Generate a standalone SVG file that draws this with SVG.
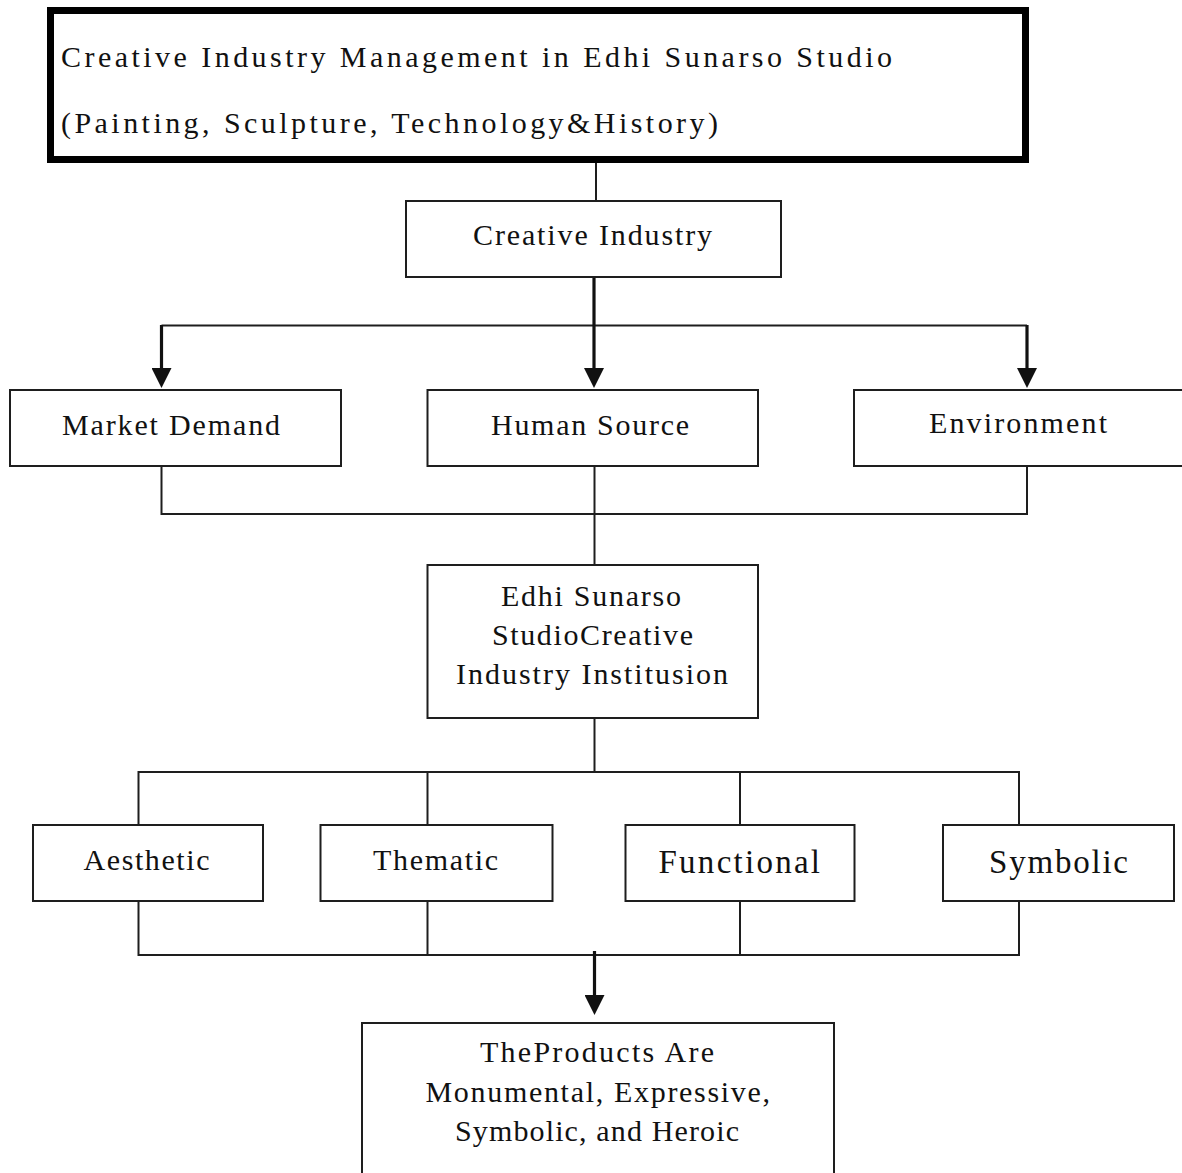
<svg xmlns="http://www.w3.org/2000/svg" width="1182" height="1173" viewBox="0 0 1182 1173">
<style>
  .box { fill: #fff; stroke: #1e1e1e; stroke-width: 2; }
  .title { fill: #fff; stroke: #000; stroke-width: 7; }
  .t { font-family: "Liberation Serif", "Times New Roman", serif; font-size: 30px; fill: #111; }
  .tb { font-family: "Liberation Serif", "Times New Roman", serif; font-size: 33px; fill: #111; }
  .c { fill: none; stroke: #1e1e1e; stroke-width: 2; }
  .ca { fill: none; stroke: #111; stroke-width: 3.2; marker-end: url(#ah); }
</style>
<defs>
  <marker id="ah" markerUnits="userSpaceOnUse" viewBox="0 0 20 20" refX="10" refY="10" markerWidth="20" markerHeight="20" orient="auto">
    <path d="M0,0 L20,10 L0,20 z" fill="#111"/>
  </marker>
</defs>
<rect width="1182" height="1173" fill="#fff"/>

<g id="connectors">
  <path class="c" d="M596,163 V217"/>
  <path class="c" d="M161.5,325.5 H1027"/>
  <path class="ca" d="M594,276 V378"/>
  <path class="ca" d="M161.5,325 V378"/>
  <path class="ca" d="M1027,325 V378"/>
  <path class="c" d="M161.5,466 V514 H1027 V466"/>
  <path class="c" d="M594.5,466 V565"/>
  <path class="c" d="M594.5,718 V772"/>
  <path class="c" d="M138.5,825 V772 H1019 V825"/>
  <path class="c" d="M427.5,772 V825"/>
  <path class="c" d="M740,772 V825"/>
  <path class="c" d="M138.5,901 V955 H1019 V901"/>
  <path class="c" d="M427.5,901 V955"/>
  <path class="c" d="M740,901 V955"/>
  <path class="ca" d="M594.5,951 V1005"/>
</g>

<g id="title">
  <rect class="title" x="50.5" y="10.5" width="975" height="149"/>
  <text class="t" x="61" y="67" textLength="831" lengthAdjust="spacing">Creative Industry Management in Edhi Sunarso Studio</text>
  <text class="t" x="61" y="133" textLength="657" lengthAdjust="spacing">(Painting, Sculpture, Technology&amp;History)</text>
</g>

<g id="creative-industry">
  <rect class="box" x="406" y="201" width="375" height="76"/>
  <text class="t" x="473" y="245" textLength="239" lengthAdjust="spacing">Creative Industry</text>
</g>

<g id="market-demand">
  <rect class="box" x="10" y="390" width="331" height="76"/>
  <text class="t" x="62" y="435" textLength="218" lengthAdjust="spacing">Market Demand</text>
</g>

<g id="human-source">
  <rect class="box" x="427.5" y="390" width="330.5" height="76"/>
  <text class="t" x="491" y="435" textLength="198" lengthAdjust="spacing">Human Source</text>
</g>

<g id="environment">
  <rect class="box" x="854" y="390" width="340" height="76"/>
  <text class="t" x="929" y="433" textLength="178" lengthAdjust="spacing">Environment</text>
</g>

<g id="institusion">
  <rect class="box" x="427.5" y="565" width="330.5" height="153"/>
  <text class="t" x="501" y="606" textLength="180" lengthAdjust="spacing">Edhi Sunarso</text>
  <text class="t" x="492" y="645" textLength="201" lengthAdjust="spacing">StudioCreative</text>
  <text class="t" x="456" y="684" textLength="272" lengthAdjust="spacing">Industry Institusion</text>
</g>

<g id="aesthetic">
  <rect class="box" x="33" y="825" width="230" height="76"/>
  <text class="t" x="83.5" y="870" textLength="126" lengthAdjust="spacing">Aesthetic</text>
</g>

<g id="thematic">
  <rect class="box" x="320.5" y="825" width="232" height="76"/>
  <text class="t" x="373" y="870" textLength="125" lengthAdjust="spacing">Thematic</text>
</g>

<g id="functional">
  <rect class="box" x="625.5" y="825" width="229" height="76"/>
  <text class="tb" x="658.5" y="873" textLength="161.5" lengthAdjust="spacing">Functional</text>
</g>

<g id="symbolic">
  <rect class="box" x="943" y="825" width="231" height="76"/>
  <text class="tb" x="989" y="873" textLength="139" lengthAdjust="spacing">Symbolic</text>
</g>

<g id="products">
  <rect class="box" x="362" y="1023" width="472" height="170"/>
  <text class="t" x="480" y="1062" textLength="234" lengthAdjust="spacing">TheProducts Are</text>
  <text class="t" x="425.5" y="1102" textLength="344.5" lengthAdjust="spacing">Monumental, Expressive,</text>
  <text class="t" x="455" y="1141" textLength="284" lengthAdjust="spacing">Symbolic, and Heroic</text>
</g>
</svg>
